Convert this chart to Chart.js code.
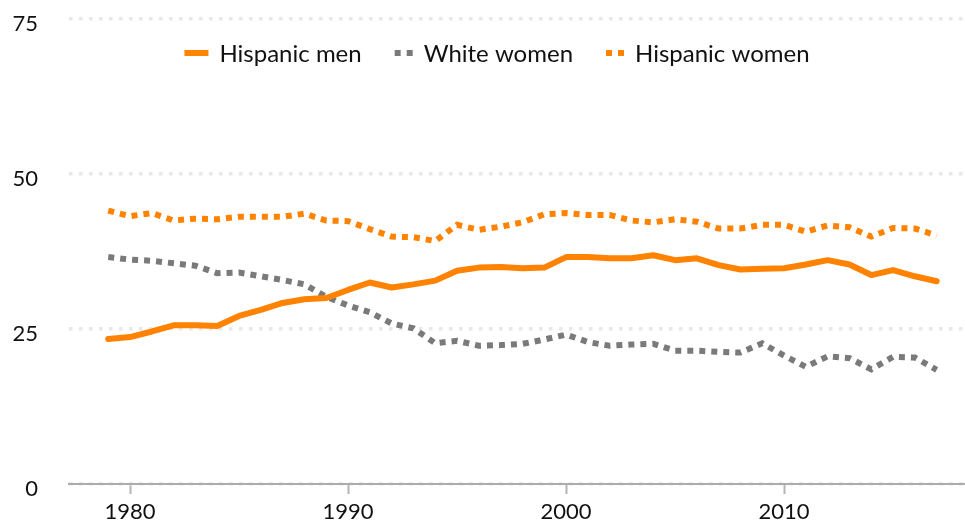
<!DOCTYPE html>
<html lang="en">
<head>
    <meta charset="UTF-8">
    <title>Hispanic men, white women and Hispanic women</title>
    <script src="https://cdn.jsdelivr.net/npm/chart.js"></script>
    <style>
        body { margin: 0; background: #fff; }
        #wrap { width: 965px; height: 523px; }
    </style>
</head>
<body>
    <div id="wrap"><canvas id="gapChart" width="965" height="523"></canvas></div>

    <script>
        // data
        const years = [1979, 1980, 1981, 1982, 1983, 1984, 1985, 1986, 1987, 1988,
                       1989, 1990, 1991, 1992, 1993, 1994, 1995, 1996, 1997, 1998,
                       1999, 2000, 2001, 2002, 2003, 2004, 2005, 2006, 2007, 2008,
                       2009, 2010, 2011, 2012, 2013, 2014, 2015, 2016, 2017];

        const hispanicMen = [23.4, 23.7, 24.6, 25.6, 25.6, 25.5, 27.1, 28.1, 29.2, 29.8,
                             30.0, 31.3, 32.5, 31.7, 32.2, 32.8, 34.4, 34.9, 35.0, 34.8,
                             34.9, 36.6, 36.6, 36.4, 36.4, 36.9, 36.1, 36.4, 35.3, 34.6,
                             34.7, 34.8, 35.4, 36.1, 35.4, 33.7, 34.5, 33.5, 32.7];

        const whiteWomen = [36.6, 36.2, 36.0, 35.6, 35.2, 34.0, 34.1, 33.5, 32.9, 32.2,
                            30.2, 28.8, 27.7, 25.9, 25.1, 22.7, 23.1, 22.3, 22.4, 22.6,
                            23.3, 24.1, 22.9, 22.3, 22.5, 22.6, 21.5, 21.5, 21.3, 21.2,
                            22.7, 20.7, 18.9, 20.6, 20.3, 18.5, 20.5, 20.4, 18.4];

        const hispanicWomen = [44.1, 43.2, 43.7, 42.5, 42.8, 42.7, 43.1, 43.1, 43.1, 43.6,
                               42.5, 42.4, 41.1, 39.9, 39.8, 39.2, 41.8, 41.0, 41.5, 42.2,
                               43.5, 43.7, 43.4, 43.4, 42.5, 42.2, 42.7, 42.3, 41.2, 41.2,
                               41.8, 41.8, 40.7, 41.7, 41.4, 39.9, 41.3, 41.2, 40.1];

        const xTicks = [1980, 1990, 2000, 2010];
        const yTicks = [0, 25, 50, 75];

        const ORANGE = '#ff8200';
        const GREY = '#7a7a7a';
        const TEXT = '#111111';
        const FONT = 'Lato, "Open Sans", sans-serif';

        function pairs(vals) {
            return years.map((yr, i) => ({ x: yr, y: vals[i] }));
        }

        // legend drawn on top of the plot area, like the original
        const topLegend = {
            id: 'topLegend',
            afterDraw(chart) {
                const ctx = chart.ctx;
                const sets = chart.data.datasets;
                const sample = 24, gapText = 11, gapItem = 33;
                ctx.save();
                ctx.font = '24px ' + FONT;
                let total = 0;
                sets.forEach((ds, i) => {
                    const len = ds.borderDash ? 18 : sample;
                    total += len + gapText + ctx.measureText(ds.label).width;
                    if (i < sets.length - 1) total += gapItem;
                });
                let x = 497 - total / 2;
                const y = 53;
                sets.forEach(ds => {
                    const len = ds.borderDash ? 18 : sample;
                    ctx.beginPath();
                    ctx.strokeStyle = ds.borderColor;
                    ctx.lineWidth = ds.borderWidth;
                    ctx.lineCap = 'butt';
                    ctx.setLineDash(ds.borderDash || []);
                    ctx.moveTo(x, y);
                    ctx.lineTo(x + len, y);
                    ctx.stroke();
                    ctx.setLineDash([]);
                    x += len + gapText;
                    ctx.fillStyle = TEXT;
                    ctx.textBaseline = 'middle';
                    ctx.fillText(ds.label, x, y + 1);
                    x += ctx.measureText(ds.label).width + gapItem;
                });
                ctx.restore();
            }
        };

        const ctx = document.getElementById('gapChart').getContext('2d');
        new Chart(ctx, {
            type: 'line',
            data: {
                datasets: [{
                    label: 'Hispanic men',
                    data: pairs(hispanicMen),
                    borderColor: ORANGE,
                    borderWidth: 6,
                    borderCapStyle: 'round',
                    borderJoinStyle: 'round'
                }, {
                    label: 'White women',
                    data: pairs(whiteWomen),
                    borderColor: GREY,
                    borderWidth: 6,
                    borderDash: [6, 6]
                }, {
                    label: 'Hispanic women',
                    data: pairs(hispanicWomen),
                    borderColor: ORANGE,
                    borderWidth: 6,
                    borderDash: [6, 6]
                }]
            },
            options: {
                responsive: false,
                animation: false,
                layout: { padding: { top: 19, right: 0, bottom: 0, left: 0 } },
                elements: { point: { radius: 0 }, line: { tension: 0 } },
                plugins: {
                    legend: { display: false },
                    tooltip: { enabled: false }
                },
                scales: {
                    x: {
                        type: 'linear',
                        min: 1977.2,
                        max: 2018.3,
                        afterBuildTicks: s => { s.ticks = xTicks.map(v => ({ value: v })); },
                        afterFit: s => {
                            s.height = 39;
                            s.paddingLeft = 0; s.paddingRight = 0;
                        },
                        border: { color: '#acacac', width: 2 },
                        grid: {
                            drawOnChartArea: false,
                            drawTicks: true,
                            tickLength: 10,
                            tickColor: '#b4b4b4',
                            tickWidth: 2
                        },
                        ticks: {
                            color: TEXT,
                            font: { family: FONT, size: 22 },
                            padding: 5,
                            maxRotation: 0,
                            callback: v => String(v)
                        }
                    },
                    y: {
                        min: 0,
                        max: 75,
                        afterBuildTicks: s => { s.ticks = yTicks.map(v => ({ value: v })); },
                        afterFit: s => {
                            s.width = 69;
                            s.paddingTop = 0; s.paddingBottom = 0;
                        },
                        border: { display: false, dash: [3.5, 6.5] },
                        grid: {
                            drawTicks: false,
                            color: '#e8e8e8',
                            lineWidth: 3.5
                        },
                        ticks: {
                            color: TEXT,
                            font: { family: FONT, size: 22 },
                            padding: 31,
                            labelOffset: 5
                        }
                    }
                }
            },
            plugins: [topLegend]
        });
    </script>
</body>
</html>
